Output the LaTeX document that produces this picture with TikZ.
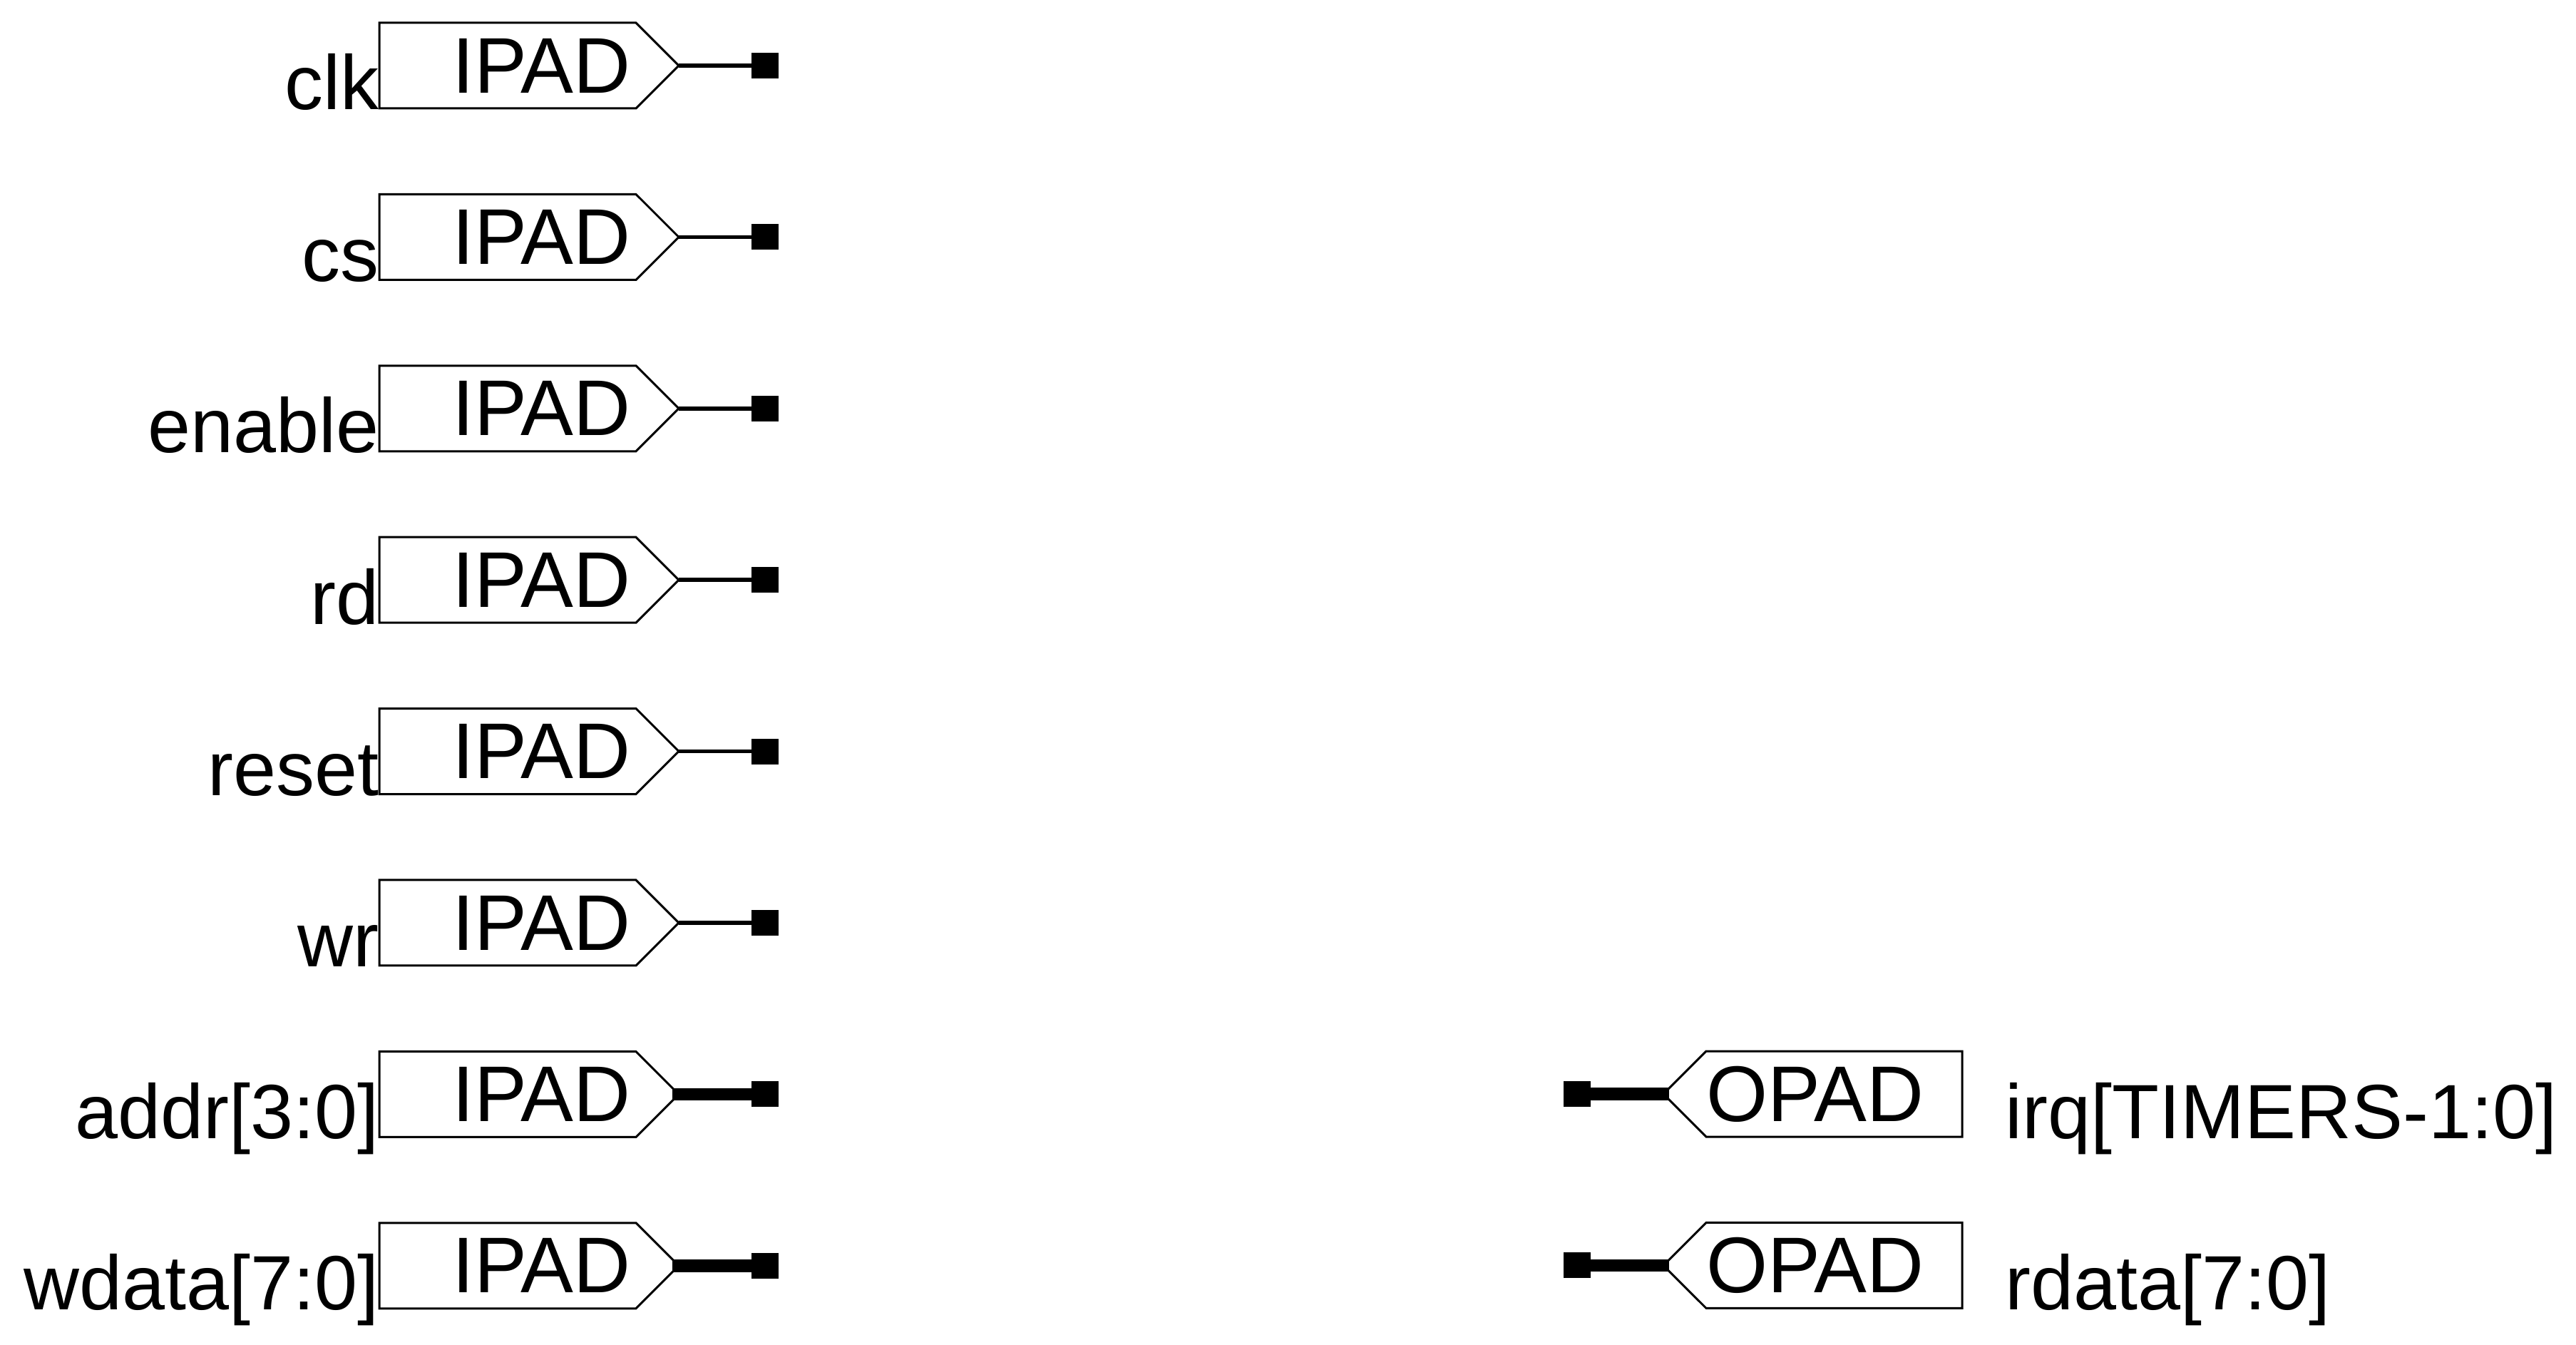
\documentclass[tikz,border=0pt]{standalone}
\usepackage{fontspec}
\setmainfont{Liberation Sans}
\usetikzlibrary{positioning, shapes.symbols}

\begin{document}
\begin{tikzpicture}[
    padfont/.style={font=\fontsize{31.5}{36}\selectfont},
    sigfont/.style={font=\fontsize{30.7}{36}\selectfont},
    ipad/.style={draw, line width=0.03cm, shape=signal, signal to=east, signal pointer angle=90,
                 minimum height=1.2cm, text width=3.45cm, inner xsep=0.075cm, inner ysep=0pt,
                 outer sep=0pt, align=right, padfont},
    opad/.style={draw, line width=0.03cm, shape=signal, signal to=west, signal pointer angle=90,
                 minimum height=1.2cm, text width=3.59cm, inner xsep=0pt, inner ysep=0pt,
                 outer sep=0pt, align=left, padfont},
    pin/.style={fill=black, minimum width=0.38cm, minimum height=0.36cm, inner sep=0pt, outer sep=0pt},
    inlabel/.style={anchor=base east, inner sep=0pt, sigfont},
    outlabel/.style={anchor=base west, inner sep=0pt, sigfont},
    wire/.style={line width=0.056cm},
    bus/.style={line width=0.175cm}
]
\useasboundingbox (0,0) rectangle (36.13,-18.86);

\node[ipad, anchor=west] (clkpad) at (5.32,-0.92) {IPAD};
\node[ipad, below=1.204cm of clkpad] (cspad) {IPAD};
\node[ipad, below=1.204cm of cspad] (enablepad) {IPAD};
\node[ipad, below=1.204cm of enablepad] (rdpad) {IPAD};
\node[ipad, below=1.204cm of rdpad] (resetpad) {IPAD};
\node[ipad, below=1.204cm of resetpad] (wrpad) {IPAD};
\node[ipad, below=1.204cm of wrpad] (addrpad) {IPAD};
\node[ipad, below=1.204cm of addrpad] (wdatapad) {IPAD};
\node[opad, anchor=east] (irqpad) at (27.52,-15.34) {OPAD};
\node[opad, below=1.204cm of irqpad] (rdatapad) {OPAD};

\node[inlabel] (clk) at ([yshift=-0.02cm]clkpad.south west) {clk};
\node[inlabel] (cs) at ([yshift=-0.02cm]cspad.south west) {cs};
\node[inlabel] (enable) at ([yshift=-0.02cm]enablepad.south west) {enable};
\node[inlabel] (rd) at ([yshift=-0.02cm]rdpad.south west) {rd};
\node[inlabel] (reset) at ([yshift=-0.02cm]resetpad.south west) {reset};
\node[inlabel] (wr) at ([yshift=-0.02cm]wrpad.south west) {wr};
\node[inlabel] (addr) at ([yshift=-0.02cm]addrpad.south west) {addr[3:0]};
\node[inlabel] (wdata) at ([yshift=-0.02cm]wdatapad.south west) {wdata[7:0]};
\node[outlabel] (irq) at ([xshift=0.6cm,yshift=-0.02cm]irqpad.south east) {irq[TIMERS-1:0]};
\node[outlabel] (rdata) at ([xshift=0.6cm,yshift=-0.02cm]rdatapad.south east) {rdata[7:0]};

\node[pin, right=1.02cm of clkpad] (clkpin) {};
\node[pin, right=1.02cm of cspad] (cspin) {};
\node[pin, right=1.02cm of enablepad] (enablepin) {};
\node[pin, right=1.02cm of rdpad] (rdpin) {};
\node[pin, right=1.02cm of resetpad] (resetpin) {};
\node[pin, right=1.02cm of wrpad] (wrpin) {};
\node[pin, right=1.02cm of addrpad] (addrpin) {};
\node[pin, right=1.02cm of wdatapad] (wdatapin) {};
\node[pin, left=1.02cm of irqpad] (irqpin) {};
\node[pin, left=1.02cm of rdatapad] (rdatapin) {};

\draw[wire] (clkpad.east) -- (clkpin);
\draw[wire] (cspad.east) -- (cspin);
\draw[wire] (enablepad.east) -- (enablepin);
\draw[wire] (rdpad.east) -- (rdpin);
\draw[wire] (resetpad.east) -- (resetpin);
\draw[wire] (wrpad.east) -- (wrpin);
\draw[bus] ([xshift=-0.09cm]addrpad.east) -- (addrpin);
\draw[bus] ([xshift=-0.09cm]wdatapad.east) -- (wdatapin);
\draw[bus] ([xshift=0.08cm]irqpad.west) -- (irqpin);
\draw[bus] ([xshift=0.08cm]rdatapad.west) -- (rdatapin);
\end{tikzpicture}
\end{document}
